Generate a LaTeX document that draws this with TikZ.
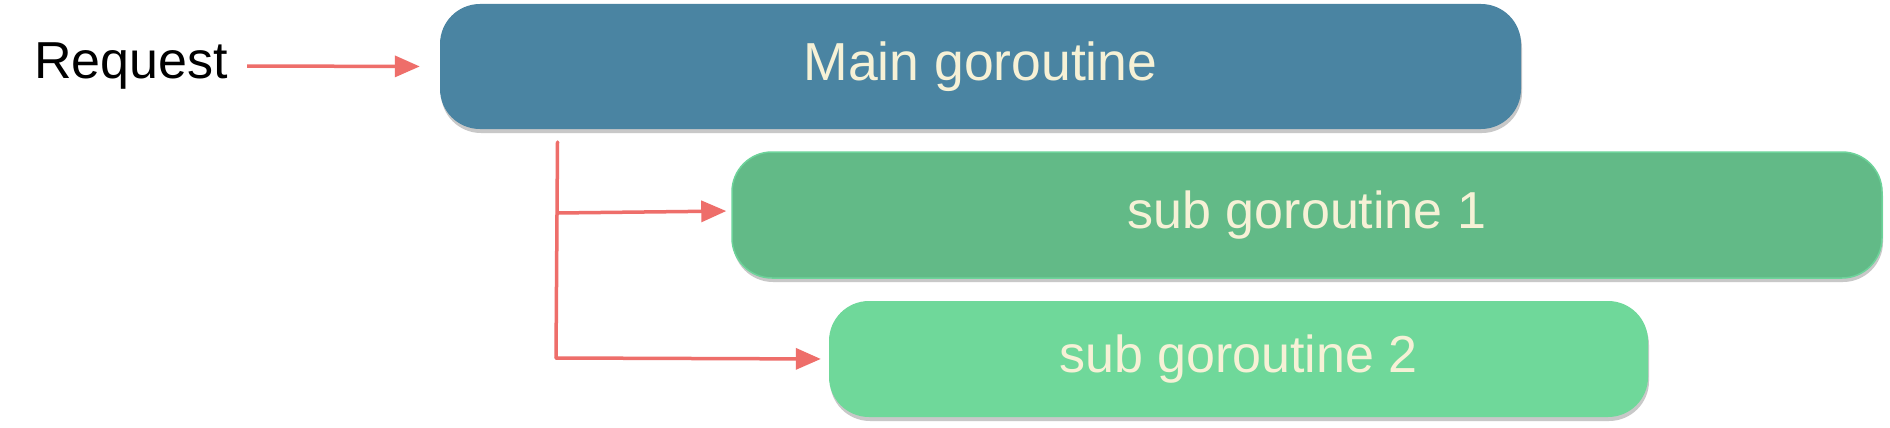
\documentclass[tikz,border=0pt]{standalone}
\usepackage{fontspec}
\setmainfont{Liberation Sans}
\usetikzlibrary{arrows.meta,shadows}
\definecolor{mainblue}{HTML}{4A84A2}
\definecolor{subone}{HTML}{62BA87}
\definecolor{suboneline}{HTML}{6DD39A}
\definecolor{subtwo}{HTML}{6FD89A}
\definecolor{arrowred}{HTML}{EE6E6A}
\definecolor{cream}{HTML}{F6F1D6}
\tikzset{
  gobox/.style={rectangle, rounded corners=40pt, inner sep=0pt, text=cream,
    font=\fontsize{52}{60}\selectfont,
    drop shadow={shadow xshift=1pt, shadow yshift=-4pt, opacity=0.3, fill=black!70}},
  redline/.style={draw=arrowred, line width=3.5pt},
  redarrow/.style={redline, -{Triangle[length=25pt,width=21pt]}},
}
\begin{document}
\begin{tikzpicture}[x=1pt,y=-1pt]
\useasboundingbox[fill=white] (0,0) rectangle (1890,428);
\node[gobox, fill=mainblue, minimum width=1081pt, minimum height=125pt, font=\fontsize{53.5}{60}\selectfont] (main) at (980.5,66.5) {Main goroutine};
\node[gobox, fill=subone, draw=suboneline, line width=1.5pt, minimum width=1150pt, minimum height=126pt] (sub1) at (1307,215) {sub goroutine 1};
\node[gobox, fill=subtwo, minimum width=819pt, minimum height=116pt] (sub2) at (1238.5,359) {sub goroutine 2};
\node[inner sep=0pt, font=\fontsize{52}{60}\selectfont] (req) at (131,66) {Request};
\coordinate (vtop) at (557.5,142);
\coordinate (br1) at (557,213);
\coordinate (vbot) at (556,358);
\draw[redarrow, shorten <=19pt, shorten >=20pt] (req.east) -- (main.west);
\draw[redline, line cap=round] (vtop) -- (vbot);
\draw[redarrow, shorten >=8pt, line cap=round] (vbot) -- (sub2.west);
\draw[redarrow, shorten >=5pt] (br1) -- ([yshift=4pt]sub1.west);
\end{tikzpicture}
\end{document}
